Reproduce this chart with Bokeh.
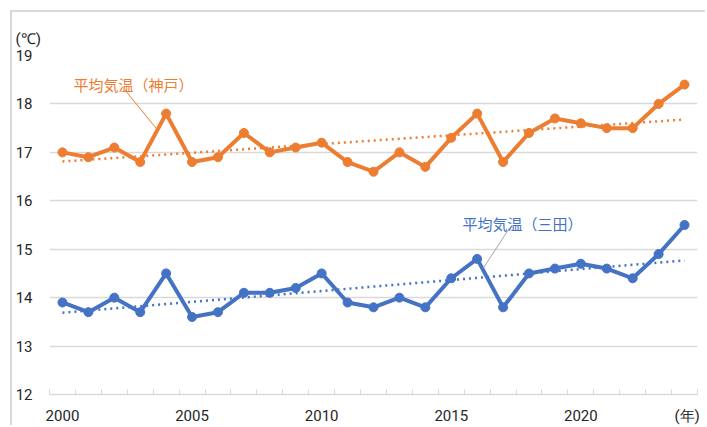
import numpy as np
from bokeh.plotting import figure
from bokeh.models import FixedTicker, Label, Range1d, Title
from bokeh.embed import file_html
from bokeh.resources import INLINE

years = list(range(2000, 2025))
kobe = [17.0, 16.9, 17.1, 16.8, 17.8, 16.8, 16.9, 17.4, 17.0, 17.1, 17.2, 16.8, 16.6,
        17.0, 16.7, 17.3, 17.8, 16.8, 17.4, 17.7, 17.6, 17.5, 17.5, 18.0, 18.4]
sanda = [13.9, 13.7, 14.0, 13.7, 14.5, 13.6, 13.7, 14.1, 14.1, 14.2, 14.5, 13.9, 13.8,
         14.0, 13.8, 14.4, 14.8, 13.8, 14.5, 14.6, 14.7, 14.6, 14.4, 14.9, 15.5]
y_ticks = [12, 13, 14, 15, 16, 17, 18, 19]
x_label_ticks = [2000, 2005, 2010, 2015, 2020]
label_kobe = "平均気温（神戸）"
label_sanda = "平均気温（三田）"
unit_y = "(℃)"
unit_x = "(年)"

ORANGE = "#ED7D31"
BLUE = "#4472C4"
FONT = "Noto Sans CJK JP"
NUMFONT = "Roboto"
TXT = "#262626"

p = figure(width=695, height=415, x_range=Range1d(1999.5, 2024.5), y_range=Range1d(12, 19),
           output_backend="svg", toolbar_location=None,
           min_border_left=37, min_border_right=10, min_border_top=43, min_border_bottom=33,
           styles={"border-left": "2px solid #d9d9d9", "border-top": "2px solid #d9d9d9",
                   "margin-left": "10px", "margin-top": "10px"})
p.outline_line_color = None
p.background_fill_color = "white"
p.border_fill_color = "white"

p.title.text = unit_y
p.title.align = "left"
p.title.offset = -34
p.title.standoff = 0
p.title.text_font = NUMFONT
p.title.text_font_size = "15px"
p.title.text_font_style = "normal"
p.title.text_color = TXT

# small spacer between the unit title and the plot frame
p.add_layout(Title(text=" ", text_font_size="6px", standoff=0), "above")

p.xgrid.visible = False
p.ygrid.grid_line_color = "#d9d9d9"
p.ygrid.grid_line_width = 1.3

p.yaxis.ticker = FixedTicker(ticks=y_ticks)
p.yaxis.axis_line_color = None
p.yaxis.major_tick_line_color = None
p.yaxis.minor_tick_line_color = None
p.yaxis.major_tick_out = 0
p.yaxis.major_tick_in = 0
p.yaxis.major_label_standoff = 17
p.yaxis.major_label_text_font = NUMFONT
p.yaxis.major_label_text_font_size = "15px"
p.yaxis.major_label_text_color = TXT

unit_x_pos = 2024.1
minor = [1999.5 + i for i in range(len(years) + 1)]
p.xaxis.ticker = FixedTicker(ticks=x_label_ticks + [unit_x_pos], minor_ticks=minor)
p.xaxis.major_label_overrides = {unit_x_pos: unit_x}
p.xaxis.axis_line_color = "#d9d9d9"
p.xaxis.axis_line_width = 1.3
p.xaxis.major_tick_line_color = None
p.xaxis.major_tick_out = 0
p.xaxis.major_tick_in = 0
p.xaxis.minor_tick_line_color = "#d9d9d9"
p.xaxis.minor_tick_in = 5
p.xaxis.minor_tick_out = 0
p.xaxis.major_label_standoff = 12
p.xaxis.major_label_text_font = NUMFONT
p.xaxis.major_label_text_font_size = "15px"
p.xaxis.major_label_text_color = TXT

# trend lines (linear fit of the data, as in the original spreadsheet)
yr = np.array(years, dtype=float)
for series, color in ((kobe, ORANGE), (sanda, BLUE)):
    a, b = np.polyfit(yr, np.array(series), 1)
    p.line(yr, a * yr + b, line_color=color, line_width=2.5, line_dash="2 4")

for series, color in ((kobe, ORANGE), (sanda, BLUE)):
    p.line(years, series, line_color=color, line_width=4)
    p.scatter(years, series, size=9, fill_color=color, line_color=color)

# leader lines
p.line([2002.39, 2003.67], [18.30, 17.46], line_color=ORANGE, line_width=1)
p.line([2017.25, 2016.24], [15.44, 14.61], line_color="#a6a6a6", line_width=1)

p.add_layout(Label(x=2002.74, y=18.40, text=label_kobe, text_color=ORANGE, text_font=FONT,
                   text_font_size="15px", text_align="center", text_baseline="middle"))
p.add_layout(Label(x=2017.75, y=15.54, text=label_sanda, text_color=BLUE, text_font=FONT,
                   text_font_size="15px", text_align="center", text_baseline="middle"))

open("out.html", "w").write(file_html(p, INLINE))
